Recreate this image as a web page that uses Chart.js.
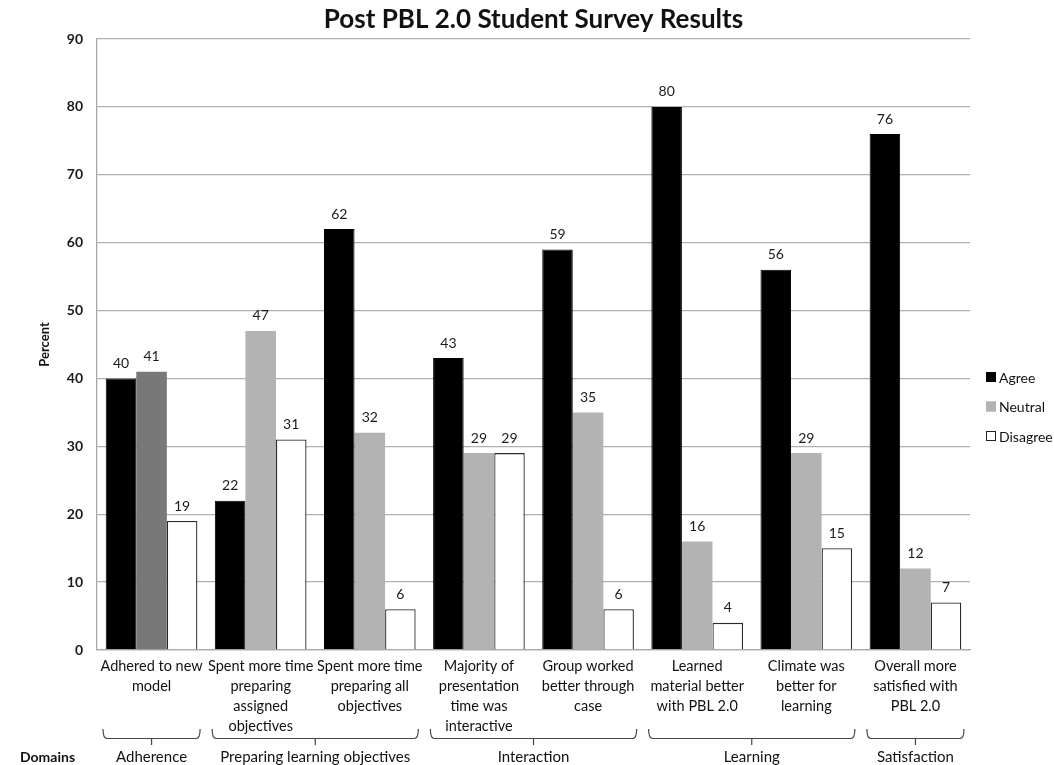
<!DOCTYPE html>
<html>
<head>
<meta charset="utf-8">
<script src="https://cdn.jsdelivr.net/npm/chart.js@4/dist/chart.umd.min.js"></script>
<style>
  html, body { margin: 0; padding: 0; background: #fff; }
  canvas { display: block; }
</style>
</head>
<body>
<canvas id="survey" width="1054" height="765"></canvas>
<script>
// Survey items (x-axis categories), one array per label line
const categories = [
  ["Adhered to new", "model"],
  ["Spent more time", "preparing", "assigned", "objectives"],
  ["Spent more time", "preparing all", "objectives"],
  ["Majority of", "presentation", "time was", "interactive"],
  ["Group worked", "better through", "case"],
  ["Learned", "material better", "with PBL 2.0"],
  ["Climate was", "better for", "learning"],
  ["Overall more", "satisfied with", "PBL 2.0"]
];

// Percent of students per response
const agree    = [40, 22, 62, 43, 59, 80, 56, 76];
const neutral  = [41, 47, 32, 29, 35, 16, 29, 12];
const disagree = [19, 31, 6, 29, 6, 4, 15, 7];

const seriesNames = ["Agree", "Neutral", "Disagree"];

// Y axis ticks
const yTicks = [0, 10, 20, 30, 40, 50, 60, 70, 80, 90];

// Domain groups: name and first/last category index
const domainNames = ["Adherence", "Preparing learning objectives", "Interaction", "Learning", "Satisfaction"];
const domainFirst = [0, 1, 3, 5, 7];
const domainLast  = [0, 2, 4, 6, 7];

const chartTitle = "Post PBL 2.0 Student Survey Results";

const FONT = "Lato, 'Open Sans', 'Liberation Sans', sans-serif";
Chart.defaults.font.family = FONT;
Chart.defaults.color = "#111";

const neutralColors = neutral.map((v, i) => i === 0 ? "#787878" : "#b3b3b3");

// Title centred over the plot area
const plotTitle = {
  id: "plotTitle",
  afterDraw(chart) {
    const ctx = chart.ctx;
    const a = chart.chartArea;
    ctx.save();
    ctx.font = "bold 26px " + FONT;
    ctx.fillStyle = "#111";
    ctx.textAlign = "center";
    ctx.textBaseline = "middle";
    ctx.fillText(chartTitle, (a.left + a.right) / 2, 20);
    ctx.restore();
  }
};

// Value labels above every bar
const valueLabels = {
  id: "valueLabels",
  afterDatasetsDraw(chart) {
    const ctx = chart.ctx;
    ctx.save();
    ctx.font = "14px " + FONT;
    ctx.fillStyle = "#1a1a1a";
    ctx.textAlign = "center";
    ctx.textBaseline = "middle";
    chart.data.datasets.forEach((ds, di) => {
      const meta = chart.getDatasetMeta(di);
      meta.data.forEach((bar, i) => {
        ctx.fillText(String(ds.data[i]), bar.x, bar.y - 15);
      });
    });
    ctx.restore();
  }
};

// Legend at the right of the plot
const sideLegend = {
  id: "sideLegend",
  afterDraw(chart) {
    const ctx = chart.ctx;
    const x = chart.chartArea.right + 16;
    const y0 = 377;
    const gap = 29.5;
    ctx.save();
    ctx.font = "14px " + FONT;
    ctx.textBaseline = "middle";
    ctx.textAlign = "left";
    chart.data.datasets.forEach((ds, di) => {
      const y = y0 + di * gap;
      const fill = Array.isArray(ds.backgroundColor) ? ds.backgroundColor[1] : ds.backgroundColor;
      ctx.fillStyle = fill;
      ctx.fillRect(x, y - 5, 10, 10);
      ctx.strokeStyle = di === 2 ? "#222" : fill;
      ctx.lineWidth = 1;
      ctx.strokeRect(x + 0.5, y - 4.5, 9, 9);
      ctx.fillStyle = "#111";
      ctx.fillText(ds.label, x + 13, y + 1);
    });
    ctx.restore();
  }
};

// Domain braces and names under the category labels
const domainBraces = {
  id: "domainBraces",
  afterDraw(chart) {
    const ctx = chart.ctx;
    const xs = chart.scales.x;
    const half = (xs.getPixelForValue(1) - xs.getPixelForValue(0)) / 2;
    const yLine = 738.5, yEnd = 729, yTick = 745, r = 4, inset = 6;
    ctx.save();
    ctx.strokeStyle = "#444";
    ctx.lineWidth = 1.2;
    domainNames.forEach((name, k) => {
      const x0 = xs.getPixelForValue(domainFirst[k]) - half + inset;
      const x1 = xs.getPixelForValue(domainLast[k]) + half - inset;
      const xm = (x0 + x1) / 2;
      ctx.beginPath();
      ctx.moveTo(x0, yEnd);
      ctx.quadraticCurveTo(x0, yLine, x0 + r, yLine);
      ctx.lineTo(x1 - r, yLine);
      ctx.quadraticCurveTo(x1, yLine, x1, yEnd);
      ctx.moveTo(xm, yLine);
      ctx.lineTo(xm, yTick);
      ctx.stroke();
      ctx.font = "15px " + FONT;
      ctx.fillStyle = "#111";
      ctx.textAlign = "center";
      ctx.textBaseline = "middle";
      ctx.fillText(name, xm, 757);
    });
    ctx.font = "bold 14px " + FONT;
    ctx.textAlign = "left";
    ctx.fillText("Domains", 20, 757);
    ctx.restore();
  }
};

new Chart(document.getElementById("survey"), {
  type: "bar",
  data: {
    labels: categories,
    datasets: [
      { label: seriesNames[0], data: agree, backgroundColor: "#000000", borderColor: "#000000", borderWidth: 1 },
      { label: seriesNames[1], data: neutral, backgroundColor: neutralColors, borderColor: neutralColors, borderWidth: 0 },
      { label: seriesNames[2], data: disagree, backgroundColor: "#ffffff", borderColor: "#2a2a2a", borderWidth: 1.3 }
    ]
  },
  options: {
    responsive: false,
    animation: false,
    devicePixelRatio: 1,
    categoryPercentage: 0.84,
    barPercentage: 1.0,
    layout: { padding: { left: 37, right: 84, top: 39, bottom: 0 } },
    plugins: {
      legend: { display: false },
      tooltip: { enabled: false },
      title: { display: false }
    },
    scales: {
      x: {
        grid: { display: false, drawTicks: false },
        border: { color: "#a8a8a8", width: 1.3 },
        ticks: {
          autoSkip: false,
          maxRotation: 0,
          minRotation: 0,
          padding: 6,
          color: "#111",
          font: { size: 14.5, lineHeight: 1.38 }
        },
        afterFit(scale) { scale.height = 115; }
      },
      y: {
        min: yTicks[0],
        max: yTicks[yTicks.length - 1],
        afterBuildTicks(scale) { scale.ticks = yTicks.map(v => ({ value: v })); },
        grid: { color: "#b0b0b0", lineWidth: 1.3, drawTicks: false },
        border: { color: "#a8a8a8", width: 1.3 },
        ticks: {
          padding: 14,
          color: "#1a1a1a",
          font: { size: 14, weight: "bold" }
        },
        title: {
          display: true,
          text: "Percent",
          color: "#111",
          padding: 0,
          font: { size: 13, weight: "bold" }
        },
        afterFit(scale) { scale.width = 60; }
      }
    }
  },
  plugins: [plotTitle, valueLabels, sideLegend, domainBraces]
});
</script>
</body>
</html>
